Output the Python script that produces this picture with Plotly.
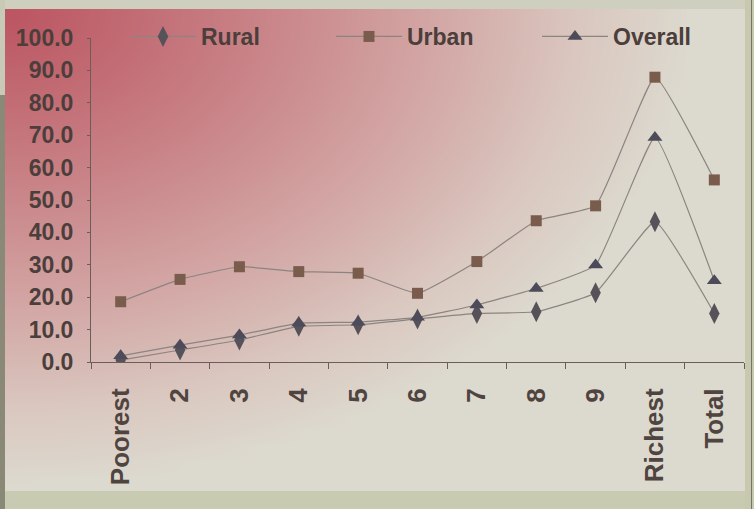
import numpy as np
import plotly.graph_objects as go

# Share (%) by wealth decile, by area of residence
categories = ["Poorest", "2", "3", "4", "5", "6", "7", "8", "9", "Richest", "Total"]
rural = [0.6, 3.7, 6.8, 11.0, 11.5, 13.3, 15.0, 15.5, 21.4, 43.3, 15.0]
urban = [18.6, 25.5, 29.4, 27.9, 27.4, 21.2, 31.0, 43.6, 48.2, 87.9, 56.2]
overall = [1.9, 5.2, 8.3, 12.0, 12.3, 13.8, 17.6, 22.7, 29.9, 69.3, 25.1]
y_ticks = [0, 10, 20, 30, 40, 50, 60, 70, 80, 90, 100]

W, H = 754, 509
FONT = "Liberation Sans, Arial, sans-serif"
TEXT = "#4b3e3b"

fig = go.Figure()

# Backdrop: warm red wash fading from the top-left corner into beige paper
gx = np.linspace(0, W, 48)
gy = np.linspace(0, H, 34)
XX, YY = np.meshgrid(gx, gy)
wash = np.clip(1 - np.sqrt(((XX - 5) / 680) ** 2 + ((YY - 10) / 470) ** 2), 0, 1) ** 0.85
fig.add_trace(go.Heatmap(
    x=gx, y=gy, z=wash, zmin=0, zmax=1, zsmooth="best",
    colorscale=[[0, "#dcd9ce"], [0.2, "#dac8c0"], [0.5, "#d09c9c"], [1, "#bb5460"]],
    showscale=False, hoverinfo="skip", showlegend=False,
    xaxis="x", yaxis="y",
))

line_col = "#8c8480"
series = [
    ("Rural", rural, "diamond-tall", "#56525a", 15),
    ("Urban", urban, "square", "#7a5c4c", 11),
    ("Overall", overall, "triangle-up", "#4d4a5a", 13),
]
for name, vals, sym, col, size in series:
    fig.add_trace(go.Scatter(
        x=categories, y=vals, name=name, mode="lines+markers",
        line=dict(color=line_col, width=1.2, shape="spline", smoothing=0.35),
        marker=dict(symbol=sym, color=col, size=size),
        xaxis="x2", yaxis="y2",
    ))

x0, x1 = 91 / W, 744 / W
y0, y1 = (H - 362) / H, (H - 38) / H

fig.update_layout(
    width=W, height=H,
    margin=dict(l=0, r=0, t=0, b=0, autoexpand=False),
    paper_bgcolor="#dcd9ce",
    plot_bgcolor="rgba(0,0,0,0)",
    font=dict(family=FONT, color=TEXT),
    xaxis=dict(domain=[0, 1], range=[0, W], visible=False, fixedrange=True),
    yaxis=dict(domain=[0, 1], range=[H, 0], visible=False, fixedrange=True),
    xaxis2=dict(
        domain=[x0, x1], anchor="y2", type="category",
        categoryorder="array", categoryarray=categories,
        range=[-0.5, len(categories) - 0.5],
        showline=True, linecolor="#6a5e5a", linewidth=1,
        ticks="outside", tickson="boundaries", ticklen=6, tickcolor="#6a5e5a",
        tickangle=-90, showgrid=False, zeroline=False, automargin=False,
        tickfont=dict(family=FONT, size=26, color="#4f4440", weight="bold"),
        ticklabelstandoff=15,
    ),
    yaxis2=dict(
        domain=[y0, y1], anchor="x2", range=[0, 100],
        tickvals=y_ticks, tickformat=".1f",
        showline=True, linecolor="#6a5e5a", linewidth=1,
        ticks="outside", ticklen=3, tickcolor="#6a5e5a",
        showgrid=False, zeroline=False, automargin=False,
        tickfont=dict(family=FONT, size=23, color=TEXT, weight="bold"),
        ticklabelstandoff=9,
    ),
    legend=dict(
        orientation="h", x=125 / W, y=(H - 15) / H, xanchor="left", yanchor="top",
        bgcolor="rgba(0,0,0,0)", itemwidth=66,
        entrywidth=125, entrywidthmode="pixels",
        font=dict(family=FONT, size=23, color=TEXT, weight="bold"),
    ),
    showlegend=True,
)

# Edges of the printed page
edge = [
    (0, 0, W, 9, "#cfcfbf"),
    (0, 491, W, H, "#c8cbb2"),
    (745, 0, W, H, "#c6c9ae"),
    (0, 95, 5, H, "#8a8876"),
    (0, 0, 5, 95, "#c9c9b8"),
    (751, 0, 752, H, "#77756a"),
]
for ex0, ey0, ex1, ey1, c in edge:
    fig.add_shape(type="rect", xref="paper", yref="paper",
                  x0=ex0 / W, x1=ex1 / W, y0=1 - ey1 / H, y1=1 - ey0 / H,
                  fillcolor=c, line=dict(width=0), layer="above")

fig.write_html("out.html")
